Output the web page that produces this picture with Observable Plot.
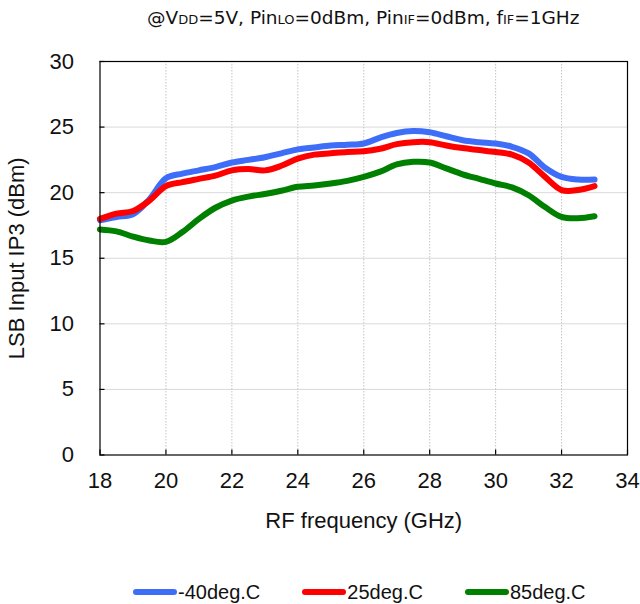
<!DOCTYPE html>
<html>
<head>
<meta charset="utf-8">
<script src="https://cdn.jsdelivr.net/npm/d3@7"></script>
<script src="https://cdn.jsdelivr.net/npm/@observablehq/plot@0.6"></script>
<style>
  html, body { margin: 0; padding: 0; background: white; }
  #wrap { width: 640px; height: 604px; position: relative; overflow: hidden; }
  #title { height: 35px; line-height: 35px; box-sizing: border-box; padding-left: 99.5px; padding-right: 13px;
    text-align: center; font-family: "DejaVu Sans", sans-serif; font-size: 18.5px; color: #111; white-space: nowrap; }
  #title .sub { font-size: 13px; }
  #legend { position: absolute; left: 0; top: 575px; width: 640px; height: 34px; display: flex; align-items: center;
    padding-left: 133px; box-sizing: border-box; gap: 42px; font-family: "Liberation Sans", Arial, sans-serif; font-size: 20px; color: #111; }
  .item { display: flex; align-items: center; }
  .sw { width: 44px; height: 6px; border-radius: 3px; margin-right: 1px; }
</style>
</head>
<body>
<div id="wrap">
  <div id="title">@V<span class="sub">DD</span>=5V, Pin<span class="sub">LO</span>=0dBm, Pin<span class="sub">IF</span>=0dBm, f<span class="sub">IF</span>=1GHz</div>
  <div id="chart"></div>
  <div id="legend"></div>
</div>
<script>
const freq = [18, 18.5, 19, 19.5, 20, 20.5, 21, 21.5, 22, 22.5, 23, 23.5, 24, 24.5, 25, 25.5, 26, 26.5, 27, 27.5, 28, 28.5, 29, 29.5, 30, 30.5, 31, 31.5, 32, 32.5, 33];
const tempM40 = [17.9, 18.15, 18.35, 19.5, 21.1, 21.45, 21.7, 21.95, 22.3, 22.5, 22.7, 23.0, 23.3, 23.45, 23.6, 23.65, 23.75, 24.2, 24.55, 24.7, 24.6, 24.3, 24.0, 23.85, 23.75, 23.5, 23.0, 21.9, 21.2, 21.0, 21.0];
const temp25 = [18.0, 18.4, 18.6, 19.4, 20.5, 20.8, 21.05, 21.3, 21.7, 21.8, 21.7, 22.05, 22.6, 22.9, 23.0, 23.1, 23.15, 23.35, 23.7, 23.85, 23.85, 23.6, 23.4, 23.25, 23.1, 22.9, 22.3, 21.2, 20.2, 20.2, 20.5];
const temp85 = [17.2, 17.05, 16.65, 16.35, 16.25, 17.0, 18.0, 18.85, 19.4, 19.7, 19.9, 20.15, 20.45, 20.55, 20.7, 20.9, 21.2, 21.6, 22.15, 22.35, 22.3, 21.85, 21.4, 21.05, 20.7, 20.4, 19.8, 18.9, 18.15, 18.05, 18.2];
const seriesNames = ["-40deg.C", "25deg.C", "85deg.C"];
const seriesColors = ["#3E6EF7", "#FF0000", "#008000"];
const xTicks = [18, 20, 22, 24, 26, 28, 30, 32, 34];
const yTicks = [0, 5, 10, 15, 20, 25, 30];
const xLabel = "RF frequency (GHz)";
const yLabel = "LSB Input IP3 (dBm)";

const seriesValues = [tempM40, temp25, temp85];
const data = seriesValues.flatMap((vals, i) => vals.map((v, j) => ({series: seriesNames[i], f: freq[j], v})));

const chart = Plot.plot({
  width: 640,
  height: 515,
  marginTop: 26,
  marginBottom: 95.5,
  marginLeft: 99.5,
  marginRight: 13,
  style: {fontFamily: "'Liberation Sans', Arial, sans-serif", fontSize: "22px", color: "#111", background: "white"},
  x: {domain: [18, 34], label: null},
  y: {domain: [0, 30], label: null},
  color: {domain: seriesNames, range: seriesColors},
  marks: [
    Plot.ruleY(yTicks.slice(1, -1), {stroke: "#d9d9d9", strokeWidth: 1}),
    Plot.ruleX(xTicks.slice(1, -1), {stroke: "#c4c4c4", strokeWidth: 1, strokeDasharray: "1.5,1.5"}),
    Plot.line(data, {x: "f", y: "v", z: "series", stroke: "series", strokeWidth: 6, curve: "catmull-rom", strokeLinecap: "round", strokeLinejoin: "round"}),
    Plot.frame({stroke: "black", strokeWidth: 1.2}),
    Plot.axisX({ticks: xTicks, tickSize: -5, tickPadding: 22.6, tickFormat: d => String(d), stroke: "black", strokeWidth: 1.2, fontSize: 22}),
    Plot.axisY({ticks: yTicks, tickSize: -5, tickPadding: 31, tickFormat: d => String(d), stroke: "black", strokeWidth: 1.2, fontSize: 22}),
    Plot.text([yLabel], {text: d => d, frameAnchor: "left", dx: -83, rotate: -90, textAnchor: "middle", lineAnchor: "middle", fontSize: 22, fill: "#111"}),
    Plot.text([xLabel], {text: d => d, frameAnchor: "bottom", dy: 65.5, textAnchor: "middle", lineAnchor: "middle", fontSize: 22, fill: "#111"})
  ]
});
document.getElementById("chart").appendChild(chart);

const legend = document.getElementById("legend");
seriesNames.forEach((name, i) => {
  const item = document.createElement("div");
  item.className = "item";
  const sw = document.createElement("span");
  sw.className = "sw";
  sw.style.background = seriesColors[i];
  const t = document.createElement("span");
  t.textContent = name;
  item.appendChild(sw);
  item.appendChild(t);
  legend.appendChild(item);
});
</script>
</body>
</html>
